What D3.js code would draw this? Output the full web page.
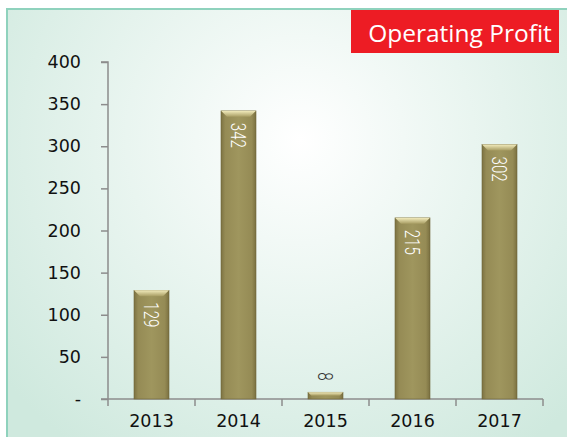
<!DOCTYPE html>
<html>
<head>
<meta charset="utf-8">
<script src="https://cdn.jsdelivr.net/npm/d3@7"></script>
<style>
  body { margin: 0; background: #fff; }
  svg { display: block; }
</style>
</head>
<body>
<script>
// operating profit by year
var years = ["2013", "2014", "2015", "2016", "2017"];
var profit = [129, 342, 8, 215, 302];
var yTicks = [0, 50, 100, 150, 200, 250, 300, 350, 400];
var yTickLabels = ["-", "50", "100", "150", "200", "250", "300", "350", "400"];
var title = "Operating Profit";

var w = 567, h = 437;

var svg = d3.select("body").append("svg")
    .attr("width", w)
    .attr("height", h);

var defs = svg.append("defs");

var bg = defs.append("radialGradient")
    .attr("id", "bg")
    .attr("gradientUnits", "userSpaceOnUse")
    .attr("cx", 300).attr("cy", 140).attr("r", 380);
bg.append("stop").attr("offset", "0%").attr("stop-color", "#ffffff");
bg.append("stop").attr("offset", "100%").attr("stop-color", "#cfe9de");

var barGrad = defs.append("linearGradient")
    .attr("id", "bar")
    .attr("x1", "0%").attr("x2", "100%");
barGrad.append("stop").attr("offset", "0%").attr("stop-color", "#7c7242");
barGrad.append("stop").attr("offset", "12%").attr("stop-color", "#958b55");
barGrad.append("stop").attr("offset", "50%").attr("stop-color", "#9f965e");
barGrad.append("stop").attr("offset", "88%").attr("stop-color", "#958b55");
barGrad.append("stop").attr("offset", "100%").attr("stop-color", "#7a7040");

var capGrad = defs.append("linearGradient")
    .attr("id", "cap")
    .attr("x1", "0%").attr("x2", "0%").attr("y1", "0%").attr("y2", "100%");
capGrad.append("stop").attr("offset", "0%").attr("stop-color", "#f2ebbc");
capGrad.append("stop").attr("offset", "100%").attr("stop-color", "#a79c62");

// panel
svg.append("rect")
    .attr("x", 7).attr("y", 9)
    .attr("width", w).attr("height", h)
    .attr("fill", "url(#bg)")
    .attr("stroke", "#8fd2bd")
    .attr("stroke-width", 2);

// title box
svg.append("rect")
    .attr("x", 351).attr("y", 10)
    .attr("width", 208).attr("height", 43)
    .attr("fill", "#ed1c24");
svg.append("text")
    .attr("x", 460).attr("y", 42)
    .attr("text-anchor", "middle")
    .attr("fill", "#fff")
    .style("font-family", "'Open Sans', sans-serif")
    .style("font-size", "24.5px")
    .text(title);

var x = d3.scaleBand()
    .domain(years)
    .range([108, 543]);

var y = d3.scaleLinear()
    .domain([0, 400])
    .range([399, 62]);

var barW = 35;

// y axis
var yAxis = svg.append("g")
    .attr("transform", "translate(108,0)")
    .call(d3.axisLeft(y).tickValues(yTicks)
      .tickFormat(function(d, i) { return yTickLabels[i]; })
      .tickSize(7).tickPadding(20));

// x axis
var xAxis = svg.append("g")
    .attr("transform", "translate(0,399)")
    .call(d3.axisBottom(x).tickSize(0).tickPadding(10));

xAxis.selectAll(".edge")
    .data(d3.range(years.length + 1))
  .enter().append("line")
    .attr("x1", function(i) { return 108 + i * x.step(); })
    .attr("x2", function(i) { return 108 + i * x.step(); })
    .attr("y1", 0).attr("y2", 7);

[yAxis, xAxis].forEach(function(g) {
  g.select(".domain").attr("stroke", "#8c8c8c").attr("stroke-width", 1.5);
  g.selectAll("line").attr("stroke", "#8c8c8c").attr("stroke-width", 1.5);
  g.selectAll("text")
      .attr("fill", "#111")
      .style("font-family", "'DejaVu Sans', sans-serif")
      .style("font-size", "17.5px");
});
yAxis.select(".domain").attr("d", "M-7,62H0V399");
xAxis.select(".domain").attr("d", "M101,0H543");
xAxis.selectAll("text").attr("dy", "1em");

// bars
var bars = svg.selectAll(".bar")
    .data(profit)
  .enter().append("g")
    .attr("class", "bar")
    .attr("transform", function(d, i) {
      return "translate(" + (x(years[i]) + x.bandwidth() / 2 - barW / 2) + "," + y(d) + ")";
    });

bars.append("rect")
    .attr("width", barW)
    .attr("height", function(d) { return y(0) - y(d); })
    .attr("fill", "url(#bar)")
    .attr("stroke", "#6f663b")
    .attr("stroke-width", 0.6);

bars.append("path")
    .attr("d", function(d) {
      var c = Math.min(6, (y(0) - y(d)) / 2);
      return "M0,0H" + barW + "L" + (barW - c) + "," + c + "H" + c + "Z";
    })
    .attr("fill", "url(#cap)");

// value labels, rotated, squeezed to look condensed
bars.append("text")
    .attr("transform", function(d) {
      var inside = y(0) - y(d) > 40;
      return "translate(" + (barW / 2) + "," + (inside ? 12 : -20) + ") rotate(90) scale(0.72,1)";
    })
    .attr("dy", "0.36em")
    .attr("fill", function(d) { return y(0) - y(d) > 40 ? "#fff" : "#333"; })
    .style("font-family", "Roboto, sans-serif")
    .style("font-weight", 300)
    .style("font-size", "21px")
    .text(function(d) { return d; });
</script>
</body>
</html>
